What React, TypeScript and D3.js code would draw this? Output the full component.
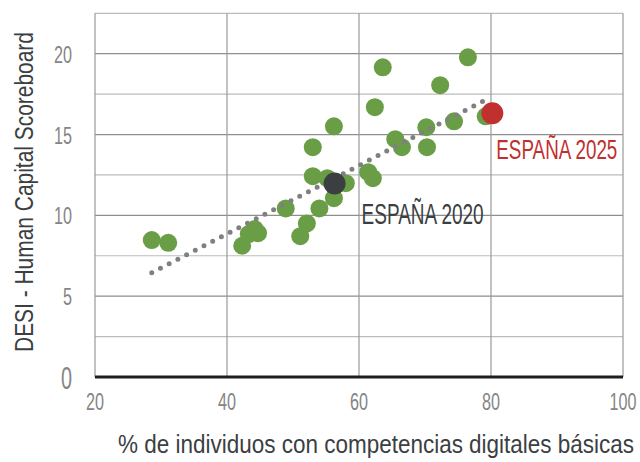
import React, { useLayoutEffect, useRef, useState } from "react";
import * as d3 from "d3";

// Countries (EU), x: % individuals with basic digital skills, y: DESI human capital
const countryX = [28.6, 31.1, 42.3, 43.3, 44.2, 44.7, 48.9, 51.1, 52.1, 54.0, 53.0, 53.0, 55.2, 58.0, 56.2, 56.2, 61.4, 62.1, 62.4, 63.6, 65.5, 66.5, 70.2, 70.3, 72.3, 74.4, 76.5, 79.2];
const countryY = [8.47, 8.30, 8.12, 8.84, 9.15, 8.90, 10.43, 8.71, 9.50, 10.43, 12.42, 14.22, 12.30, 11.99, 11.06, 15.51, 12.67, 12.30, 16.69, 19.16, 14.71, 14.22, 15.45, 14.22, 18.05, 15.82, 19.78, 16.13];

const spainLabels = ["ESPAÑA 2020", "ESPAÑA 2025"];
const spainX = [56.3, 80.2];
const spainY = [11.97, 16.32];

const trendX = [28.6, 78.9];
const trendY = [6.45, 17.08];

const xTicks = [20, 40, 60, 80, 100];
const yTicks = [0, 5, 10, 15, 20];
const yGrid = [2.5, 5, 7.5, 10, 12.5, 15, 17.5, 20, 22.5];

const xTitle = "% de individuos con competencias digitales básicas";
const yTitle = "DESI - Human Capital Scoreboard";

const FONT = "'Liberation Sans', Arial, sans-serif";

const W = 640;
const H = 462;

type FitProps = {
  x: number;
  y: number;
  width: number;
  size: number;
  fill: string;
  anchor?: "start" | "middle" | "end";
  rotate?: number;
  guess: number;
  children: string;
};

function FitText({ x, y, width, size, fill, anchor = "start", rotate = 0, guess, children }: FitProps) {
  const ref = useRef<SVGTextElement>(null);
  const [sx, setSx] = useState(guess);
  useLayoutEffect(() => {
    if (ref.current) {
      const w = ref.current.getComputedTextLength();
      if (w > 0) setSx(width / w);
    }
  }, [width, children, size]);
  return (
    <text
      ref={ref}
      transform={`translate(${x},${y}) rotate(${rotate}) scale(${sx},1)`}
      textAnchor={anchor}
      fontSize={size}
      fill={fill}
    >
      {children}
    </text>
  );
}

export default function App() {
  const x = d3.scaleLinear().domain([20, 100]).range([95, 623]);
  const y = d3.scaleLinear().domain([0, 22.5]).range([377, 13.3]);

  const line = d3
    .line<number>()
    .x((_, i) => x(trendX[i]))
    .y((_, i) => y(trendY[i]));

  const green = "#6a9e46";
  const dark = "#3b3f42";
  const red = "#c0302f";
  const tickColor = "#858585";

  return (
    <svg
      width={W}
      height={H}
      style={{ position: "absolute", left: 0, top: 0, display: "block", background: "#fff" }}
      fontFamily={FONT}
    >
      {/* horizontal grid */}
      {yGrid.map((g) => (
        <line
          key={"h" + g}
          x1={x(20)}
          x2={x(100)}
          y1={y(g)}
          y2={y(g)}
          stroke={g % 5 === 0 ? "#8e8e8e" : "#bcbcbc"}
          strokeWidth={1.2}
        />
      ))}
      {/* vertical grid */}
      {xTicks.map((t) => (
        <line key={"v" + t} x1={x(t)} x2={x(t)} y1={y(22.5)} y2={y(0)} stroke="#999" strokeWidth={1.2} />
      ))}
      {/* baseline */}
      <line x1={x(20)} x2={x(100)} y1={y(0)} y2={y(0)} stroke="#1e1e1e" strokeWidth={3} />

      {/* country points */}
      {countryX.map((cx, i) => (
        <circle key={"c" + i} cx={x(cx)} cy={y(countryY[i])} r={9} fill={green} />
      ))}

      {/* trend */}
      <path
        d={line(trendX) || ""}
        fill="none"
        stroke="#808080"
        strokeWidth={5}
        strokeLinecap="round"
        strokeDasharray="0 9.8"
      />

      {/* Spain points */}
      <circle cx={x(spainX[0])} cy={y(spainY[0])} r={11} fill={dark} />
      <circle cx={x(spainX[1])} cy={y(spainY[1])} r={11} fill={red} />

      <FitText x={x(spainX[0]) + 27} y={y(spainY[0]) + 40} width={122} size={29.5} fill={dark} guess={0.64}>
        {spainLabels[0]}
      </FitText>
      <FitText x={x(spainX[1]) + 4} y={y(spainY[1]) + 46} width={121} size={28.5} fill={red} guess={0.64}>
        {spainLabels[1]}
      </FitText>

      {/* y tick labels */}
      {yTicks.map((t) => (
        <text
          key={"yt" + t}
          transform={`translate(72,${y(t) + (t === 0 ? 11.5 : 9)}) scale(${t === 0 ? 0.62 : 0.66},1)`}
          textAnchor="end"
          fontSize={t === 0 ? 32 : 24.5}
          fill={tickColor}
        >
          {t}
        </text>
      ))}

      {/* x tick labels */}
      {xTicks.map((t) => (
        <text
          key={"xt" + t}
          transform={`translate(${x(t)},410) scale(0.66,1)`}
          textAnchor="middle"
          fontSize={24.5}
          fill={tickColor}
        >
          {t}
        </text>
      ))}

      {/* axis titles */}
      <FitText x={118} y={453} width={516} size={26} fill={dark} guess={0.86}>
        {xTitle}
      </FitText>
      <FitText x={33} y={192} width={320} size={25} fill={dark} anchor="middle" rotate={-90} guess={0.84}>
        {yTitle}
      </FitText>
    </svg>
  );
}
